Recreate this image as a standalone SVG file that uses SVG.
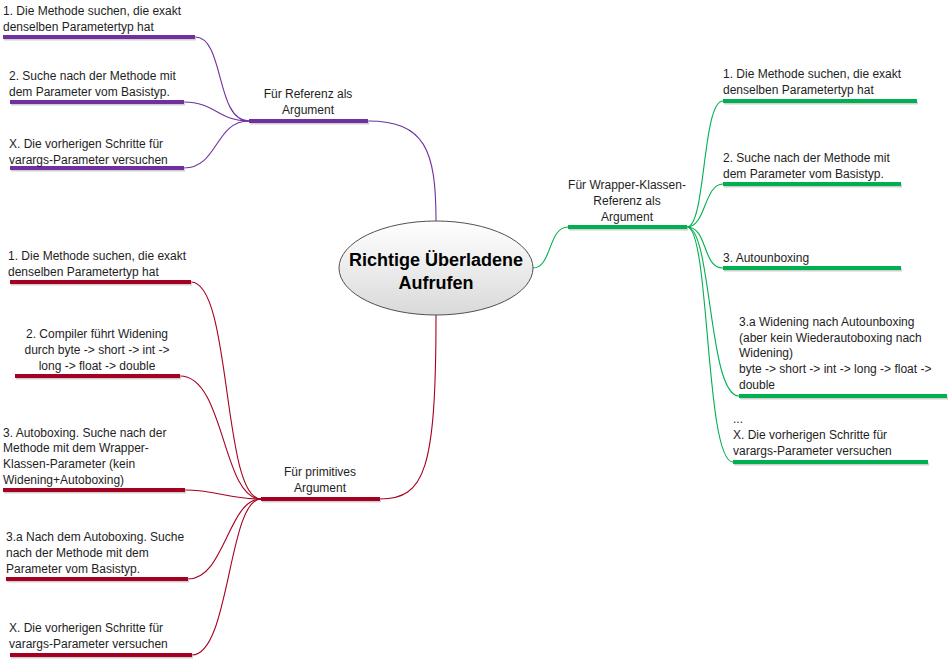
<svg xmlns="http://www.w3.org/2000/svg" width="952" height="660" viewBox="0 0 952 660">
<defs>
<linearGradient id="cg" x1="0" y1="0" x2="0" y2="1">
<stop offset="0" stop-color="#ffffff"/>
<stop offset="1" stop-color="#d9d9d9"/>
</linearGradient>
</defs>
<style>
text{font-family:"Liberation Sans",Arial,sans-serif;font-size:12px;fill:#1e1e1e}
.c{text-anchor:middle}
.title{font-size:18px;font-weight:bold;fill:#000}
.bar{stroke-width:4;stroke-linecap:butt;fill:none}
.sh{stroke:#cfcfcf;stroke-width:3;fill:none}
.ln{fill:none;stroke-width:1.1}
.p{stroke:#7030a0}
.g{stroke:#00b050}
.r{stroke:#a50021}
</style>
<rect width="952" height="660" fill="#ffffff"/>
<g id="connectors">
<path class="ln p" d="M368,121 C425,121 436,150 436,221"/>
<path class="ln p" d="M249,121 C215,121 225,37 195,37"/>
<path class="ln p" d="M249,121 C218,121 215,102 184,102"/>
<path class="ln p" d="M249,121 C215,121 218,168 184,168"/>
<path class="ln g" d="M533,268 C552,268 548,227 568,227"/>
<path class="ln g" d="M687,227 C706,227 702,101 723,101"/>
<path class="ln g" d="M687,227 C706,227 704,184 723,184"/>
<path class="ln g" d="M687,227 C708,227 702,268 723,268"/>
<path class="ln g" d="M687,227 C712,227 708,396 739,396"/>
<path class="ln g" d="M687,227 C710,227 705,462 733,462"/>
<path class="ln r" d="M436,315 C436,470 425,499 380,499"/>
<path class="ln r" d="M261,499 C222,499 232,282 191,282"/>
<path class="ln r" d="M261,499 C222,499 225,376 180,376"/>
<path class="ln r" d="M261,499 C230,499 215,490 185,490"/>
<path class="ln r" d="M261,499 C228,499 225,579 188,579"/>
<path class="ln r" d="M261,499 C228,499 230,655 192,655"/>
</g>
<g id="center">
<ellipse cx="436" cy="268" rx="97" ry="47" fill="url(#cg)" stroke="#505050" stroke-width="1"/>
<text class="c title" x="436" y="266">Richtige Überladene</text>
<text class="c title" x="436" y="289">Aufrufen</text>
</g>
<g id="ref">
<line class="sh" x1="250" y1="123" x2="369" y2="123"/>
<line class="bar p" x1="249" y1="121" x2="368" y2="121"/>
<text class="c" x="308" y="98">Für Referenz als</text>
<text class="c" x="308" y="114">Argument</text>
</g>
<g id="ref1">
<line class="sh" x1="4" y1="39" x2="196" y2="39"/>
<line class="bar p" x1="3" y1="37" x2="195" y2="37"/>
<text x="3" y="15">1. Die Methode suchen, die exakt</text>
<text x="3" y="31">denselben Parametertyp hat</text>
</g>
<g id="ref2">
<line class="sh" x1="11" y1="104" x2="185" y2="104"/>
<line class="bar p" x1="10" y1="102" x2="184" y2="102"/>
<text x="9" y="80">2. Suche nach der Methode mit</text>
<text x="9" y="96">dem Parameter vom Basistyp.</text>
</g>
<g id="ref3">
<line class="sh" x1="11" y1="170" x2="185" y2="170"/>
<line class="bar p" x1="10" y1="168" x2="184" y2="168"/>
<text x="9" y="148">X. Die vorherigen Schritte für</text>
<text x="9" y="164">varargs-Parameter versuchen</text>
</g>
<g id="wrap">
<line class="sh" x1="569" y1="229" x2="688" y2="229"/>
<line class="bar g" x1="568" y1="227" x2="687" y2="227"/>
<text class="c" x="627" y="189">Für Wrapper-Klassen-</text>
<text class="c" x="627" y="205">Referenz als</text>
<text class="c" x="627" y="221">Argument</text>
</g>
<g id="wrap1">
<line class="sh" x1="724" y1="103" x2="918" y2="103"/>
<line class="bar g" x1="723" y1="101" x2="917" y2="101"/>
<text x="723" y="78">1. Die Methode suchen, die exakt</text>
<text x="723" y="94">denselben Parametertyp hat</text>
</g>
<g id="wrap2">
<line class="sh" x1="724" y1="186" x2="902" y2="186"/>
<line class="bar g" x1="723" y1="184" x2="901" y2="184"/>
<text x="723" y="162">2. Suche nach der Methode mit</text>
<text x="723" y="178">dem Parameter vom Basistyp.</text>
</g>
<g id="wrap3">
<line class="sh" x1="724" y1="270" x2="902" y2="270"/>
<line class="bar g" x1="723" y1="268" x2="901" y2="268"/>
<text x="723" y="262">3. Autounboxing</text>
</g>
<g id="wrap4">
<line class="sh" x1="740" y1="398" x2="948" y2="398"/>
<line class="bar g" x1="739" y1="396" x2="947" y2="396"/>
<text x="739" y="326">3.a Widening nach Autounboxing</text>
<text x="739" y="342">(aber kein Wiederautoboxing nach</text>
<text x="739" y="357">Widening)</text>
<text x="739" y="373">byte -&gt; short -&gt; int -&gt; long -&gt; float -&gt;</text>
<text x="739" y="389">double</text>
</g>
<g id="wrap5">
<line class="sh" x1="734" y1="464" x2="929" y2="464"/>
<line class="bar g" x1="733" y1="462" x2="928" y2="462"/>
<text x="733" y="423">...</text>
<text x="733" y="439">X. Die vorherigen Schritte für</text>
<text x="733" y="455">varargs-Parameter versuchen</text>
</g>
<g id="prim">
<line class="sh" x1="262" y1="501" x2="381" y2="501"/>
<line class="bar r" x1="261" y1="499" x2="380" y2="499"/>
<text class="c" x="320" y="476">Für primitives</text>
<text class="c" x="320" y="492">Argument</text>
</g>
<g id="prim1">
<line class="sh" x1="11" y1="284" x2="192" y2="284"/>
<line class="bar r" x1="10" y1="282" x2="191" y2="282"/>
<text x="8" y="260">1. Die Methode suchen, die exakt</text>
<text x="8" y="276">denselben Parametertyp hat</text>
</g>
<g id="prim2">
<line class="sh" x1="16" y1="378" x2="181" y2="378"/>
<line class="bar r" x1="15" y1="376" x2="180" y2="376"/>
<text class="c" x="97" y="338">2. Compiler führt Widening</text>
<text class="c" x="97" y="354">durch byte -&gt; short -&gt; int -&gt;</text>
<text class="c" x="97" y="370">long -&gt; float -&gt; double</text>
</g>
<g id="prim3">
<line class="sh" x1="4" y1="492" x2="186" y2="492"/>
<line class="bar r" x1="3" y1="490" x2="185" y2="490"/>
<text x="3" y="437">3. Autoboxing. Suche nach der</text>
<text x="3" y="452">Methode mit dem Wrapper-</text>
<text x="3" y="468">Klassen-Parameter (kein</text>
<text x="3" y="484">Widening+Autoboxing)</text>
</g>
<g id="prim4">
<line class="sh" x1="7" y1="581" x2="189" y2="581"/>
<line class="bar r" x1="6" y1="579" x2="188" y2="579"/>
<text x="6" y="541">3.a Nach dem Autoboxing. Suche</text>
<text x="6" y="557">nach der Methode mit dem</text>
<text x="6" y="573">Parameter vom Basistyp.</text>
</g>
<g id="prim5">
<line class="sh" x1="11" y1="657" x2="193" y2="657"/>
<line class="bar r" x1="10" y1="655" x2="192" y2="655"/>
<text x="9" y="632">X. Die vorherigen Schritte für</text>
<text x="9" y="648">varargs-Parameter versuchen</text>
</g>
</svg>
